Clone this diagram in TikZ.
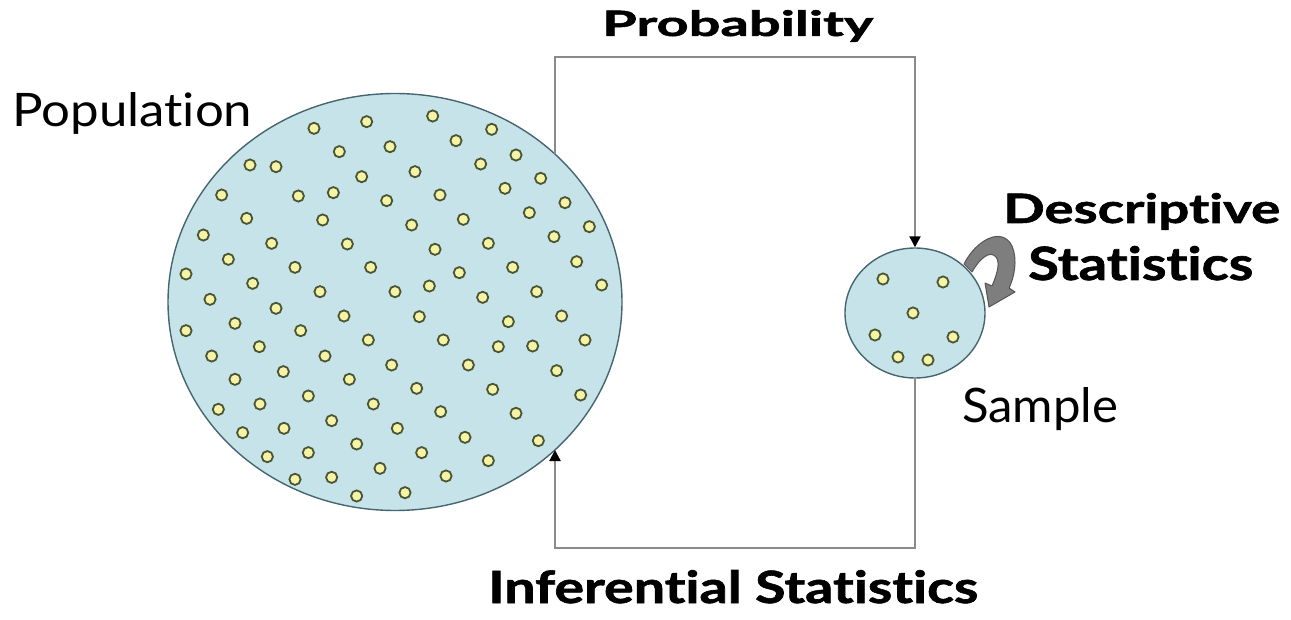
\documentclass[tikz,border=0pt]{standalone}
\usepackage{fontspec}
\setmainfont{Lato}[Ligatures=NoCommon, BoldFeatures={FakeBold=1.3}]
\usetikzlibrary{shapes.geometric,arrows.meta,calc}
\definecolor{circfill}{HTML}{C6E3EA}
\definecolor{circline}{HTML}{46656F}
\definecolor{dotfill}{HTML}{F7F3A6}
\definecolor{dotline}{HTML}{4A5632}
\definecolor{connc}{HTML}{8A8A8A}
\definecolor{descc}{HTML}{7E7E7E}
\definecolor{descline}{HTML}{555555}
\tikzset{
  blob/.style={ellipse, draw=circline, fill=circfill, line width=1.4pt, inner sep=0pt},
  pdot/.style={draw=dotline, fill=dotfill, line width=1.8pt},
  conn/.style={draw=connc, line width=2.2pt, line join=miter},
  tip/.style={-{Triangle[black,width=11pt,length=11pt]}},
  lbl/.style={inner sep=0pt, anchor=base west},
  descshape/.style={fill=descc, draw=descline, line width=1pt, line join=round}
}
\begin{document}
\begin{tikzpicture}[x=1pt,y=-1pt]
\useasboundingbox (0,0) rectangle (1291,620);
% populations
\node[blob, minimum width=454pt, minimum height=417pt] (pop) at (395,302) {};
\node[blob, minimum width=140pt, minimum height=130pt] (samp) at (915,313) {};
% dots of population
\foreach \a/\b in {462/145,620/125,818/108,995/148,888/182,538/215,690/200,270/255,348/260,962/252,1068/225,605/290,765/275,1142/295,185/345,415/348,520/338,680/362,840/345,1035/325,1215/368,260/415,488/420,755/435,910/418,1108/398,1288/440,130/465,335/490,562/492,825/508,985/490,1182/470,205/538,405/562,632/562,898/578,1058/562,1250/545,78/582,278/610,480/635,705/635,808/618,968/652,1130/635,1325/615,150/658,348/685,552/708,778/710,1045/725,1205/708,78/752,225/730,422/752,625/780,850/780,1015/800,1118/798,1275/780,155/828,298/800,495/828,695/855,925/855,1190/872,225/898,370/875,568/898,770/925,998/928,1262/945,175/988,300/972,445/948,640/972,842/995,1068/1000,248/1058,372/1045,515/1022,712/1045,915/1072,1135/1082,322/1130,445/1118,590/1092,785/1118,985/1142,405/1198,515/1192,660/1165,858/1188,590/1248,735/1238}
  \draw[pdot] ({160+\a/3},{80+\b/3}) circle (5.6);
% dots of sample
\foreach \x/\y in {883/279,943/282,913/313,875/335,953/337,898/357,928/360}
  \draw[pdot] (\x,\y) circle (5.6);
% connectors
\coordinate (tl) at (555,57);
\coordinate (bl) at (555,548);
\draw[conn, tip] ($(pop.center)+(160,-148)$) -- (tl) -| (samp.north);
\draw[conn, tip] (samp.south) |- (bl) -- ($(pop.center)+(160,148)$);
% descriptive arrow (curved block arrow)
\draw[descshape] (964,264) .. controls (976,240) and (1002,226) .. (1012,246)
  .. controls (1018,260) and (1014,278) .. (1009,288) -- (1015,292) -- (989,307)
  -- (985,283) -- (992,286) .. controls (998,272) and (1000,262) .. (996,257)
  .. controls (990,250) and (980,258) .. (972,272) -- cycle;
% labels
\node[lbl] (poplbl) at (12,127) {\resizebox{240pt}{34pt}{Population}};
\node[lbl] (samplbl) at (962,422) {\resizebox{156pt}{35pt}{Sample}};
\node[lbl] (problbl) at (602,36) {\resizebox{271pt}{26pt}{\bfseries Probability}};
\node[lbl] (inflbl) at (488,603) {\resizebox{490pt}{33pt}{\bfseries Inferential Statistics}};
\node[lbl] (desclbl) at (1003,223) {\resizebox{277pt}{30pt}{\bfseries Descriptive}};
\node[lbl] (statlbl) at (1028,280) {\resizebox{225pt}{34pt}{\bfseries Statistics}};
\end{tikzpicture}
\end{document}
